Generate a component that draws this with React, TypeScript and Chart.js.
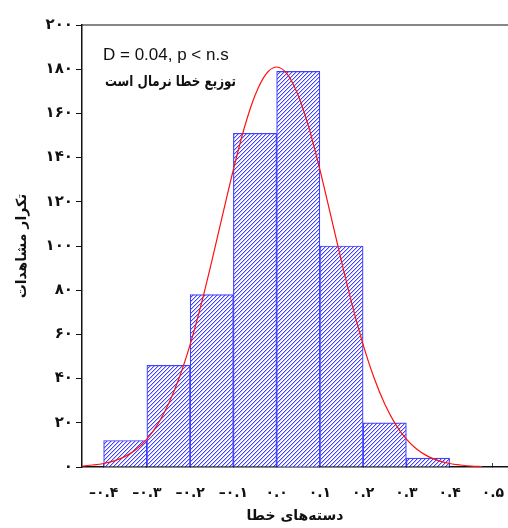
import React, { useEffect, useRef } from "react";
import { Chart, registerables } from "chart.js";

Chart.register(...registerables);

// Histogram bins (centers) and observed frequencies
const binCenters = [-0.35, -0.25, -0.15, -0.05, 0.05, 0.15, 0.25, 0.35];
const counts = [12, 46, 78, 151, 179, 100, 20, 4];

// Fitted normal curve
const curveX = [
  -0.45, -0.425, -0.4, -0.375, -0.35, -0.325, -0.3, -0.275, -0.25, -0.225,
  -0.2, -0.175, -0.15, -0.125, -0.1, -0.075, -0.05, -0.025, 0, 0.025, 0.05,
  0.075, 0.1, 0.125, 0.15, 0.175, 0.2, 0.225, 0.25, 0.275, 0.3, 0.325, 0.35,
  0.375, 0.4, 0.425, 0.45, 0.475,
];
const curveY = [
  0.4, 0.9, 1.6, 2.8, 4.8, 7.9, 12.6, 19.3, 28.5, 40.5, 55.4, 73.1, 93, 114,
  134.6, 153.3, 168.1, 177.7, 181, 177.7, 168.1, 153.3, 134.6, 114, 93, 73.1,
  55.4, 40.5, 28.5, 19.3, 12.6, 7.9, 4.8, 2.8, 1.6, 0.9, 0.4, 0.2,
];

const xTickValues = [-0.4, -0.3, -0.2, -0.1, 0, 0.1, 0.2, 0.3, 0.4, 0.5];
const yTickValues = [0, 20, 40, 60, 80, 100, 120, 140, 160, 180, 200];

const xTitle = "دسته‌های خطا";
const yTitle = "تکرار مشاهدات";
const statText = "D = 0.04, p < n.s";
const noteText = "توزیع خطا نرمال است";

const faDigits = "۰۱۲۳۴۵۶۷۸۹";
function toFa(v: number, decimals: number): string {
  const s = Math.abs(v)
    .toFixed(decimals)
    .replace(/\d/g, (d) => faDigits[Number(d)]);
  return (v < -1e-9 ? "\u2013" : "") + s;
}

function makeHatch(): CanvasPattern | string {
  const c = document.createElement("canvas");
  c.width = 4;
  c.height = 4;
  const g = c.getContext("2d");
  if (!g) return "#9a9aff";
  g.fillStyle = "#ffffff";
  g.fillRect(0, 0, 4, 4);
  for (let i = 0; i < 4; i++) {
    g.fillStyle = "#4040ff";
    g.fillRect(i, 3 - i, 1, 1);
    g.fillStyle = "#c4c4ff";
    g.fillRect((i + 1) % 4, 3 - i, 1, 1);
  }
  return g.createPattern(c, "repeat") || "#9a9aff";
}

const framePlugin = {
  id: "frameAndNotes",
  afterDraw(chart: any) {
    const { ctx, chartArea } = chart;
    ctx.save();
    ctx.strokeStyle = "#111";
    ctx.lineWidth = 1.2;
    ctx.beginPath();
    ctx.moveTo(chartArea.left, chartArea.top);
    ctx.lineTo(chartArea.right, chartArea.top);
    ctx.stroke();

    ctx.fillStyle = "#111";
    ctx.textAlign = "left";
    ctx.textBaseline = "middle";
    ctx.font = '17px "Liberation Sans", Arial, sans-serif';
    ctx.fillText(statText, chartArea.left + 21, chartArea.top + 30);
    ctx.font = 'bold 15px "DejaVu Sans", sans-serif';
    ctx.fillText(noteText, chartArea.left + 23, chartArea.top + 57, 131);
    ctx.restore();
  },
};

export default function App() {
  const ref = useRef<HTMLCanvasElement | null>(null);

  useEffect(() => {
    const canvas = ref.current;
    if (!canvas) return;
    const hatch = makeHatch();
    const xTickFont = { family: '"DejaVu Sans", sans-serif', size: 14, weight: "bold" as const };
    const yTickFont = { family: '"DejaVu Sans", sans-serif', size: 15, weight: "bold" as const };
    const titleFont = { family: '"DejaVu Sans", sans-serif', size: 14, weight: "bold" as const };

    const chart = new Chart(canvas, {
      type: "bar",
      data: {
        datasets: [
          {
            type: "line",
            data: curveX.map((x, i) => ({ x, y: curveY[i] })),
            borderColor: "#ff1010",
            borderWidth: 1.2,
            pointRadius: 0,
            cubicInterpolationMode: "monotone",
            fill: false,
            order: 0,
          } as any,
          {
            type: "bar",
            data: binCenters.map((x, i) => ({ x, y: counts[i] })),
            backgroundColor: hatch as any,
            borderColor: "#4040ff",
            borderWidth: 1.2,
            barPercentage: 1,
            categoryPercentage: 1,
            order: 1,
          } as any,
        ],
      },
      options: {
        animation: false,
        responsive: false,
        maintainAspectRatio: false,
        layout: { padding: { top: 25, left: 0, right: 0, bottom: 0 } },
        plugins: {
          legend: { display: false },
          tooltip: { enabled: false },
        },
        scales: {
          x: {
            type: "linear",
            min: -0.45,
            max: 0.535,
            offset: false,
            grid: {
              offset: false,
              drawOnChartArea: false,
              drawTicks: true,
              tickLength: -4,
              color: "#444",
            },
            border: { color: "#111", width: 1.5 },
            afterBuildTicks: (s: any) => {
              s.ticks = xTickValues.map((v) => ({ value: v }));
            },
            ticks: {
              callback: (v: any) => toFa(Number(v), 1),
              font: xTickFont,
              color: "#111",
              padding: 22,
              maxRotation: 0,
              autoSkip: false,
            },
            title: {
              display: true,
              text: xTitle,
              font: titleFont,
              color: "#111",
              padding: { top: 0, bottom: 3 },
            },
            afterFit: (s: any) => {
              s.height = 61;
              s.paddingLeft = 0;
              s.paddingRight = 0;
            },
          } as any,
          y: {
            type: "linear",
            min: 0,
            max: 200,
            grid: {
              drawOnChartArea: false,
              drawTicks: true,
              tickLength: 6,
              color: "#111",
            },
            border: { color: "#111", width: 1.5 },
            afterBuildTicks: (s: any) => {
              s.ticks = yTickValues.map((v) => ({ value: v }));
            },
            ticks: {
              callback: (v: any) => toFa(Number(v), 0),
              font: yTickFont,
              color: "#111",
              padding: 3,
            },
            title: {
              display: true,
              text: yTitle,
              font: titleFont,
              color: "#111",
              padding: { top: 14, bottom: 0 },
            },
            afterFit: (s: any) => {
              s.width = 82;
              s.paddingTop = 0;
              s.paddingBottom = 0;
            },
          } as any,
        },
      },
      plugins: [framePlugin],
    });
    return () => chart.destroy();
  }, []);

  return (
    <div style={{ position: "fixed", left: 0, top: 0, width: 508, height: 528, background: "#fff" }}>
      <canvas ref={ref} width={508} height={528} style={{ display: "block" }} />
    </div>
  );
}
